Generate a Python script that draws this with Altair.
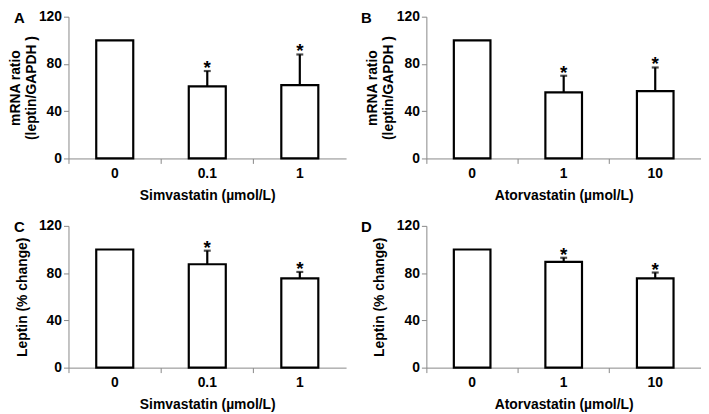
import altair as alt
import pandas as pd

# Panel data
letters = ["A", "B", "C", "D"]
cats_sim = ["0", "0.1", "1"]
cats_ator = ["0", "1", "10"]
vals_A = [100, 61, 62]
errs_A = [100, 74, 88]
vals_B = [100, 56, 57]
errs_B = [100, 70, 77]
vals_C = [100, 87.5, 75.5]
errs_C = [100, 99, 81]
vals_D = [100, 89.5, 75.5]
errs_D = [100, 93, 80.5]
sig = ["", "*", "*"]
ytitle_top = ["mRNA ratio", "(leptin/GAPDH )"]
ytitle_bottom = "Leptin (% change)"
xtitle_sim = "Simvastatin (µmol/L)"
xtitle_ator = "Atorvastatin (µmol/L)"
yticks = [0, 40, 80, 120]

FONT = "Liberation Sans"


def panel(letter, cats, vals, errs, ytitle, xtitle, w, tpad, lx):
    df = pd.DataFrame({"cat": cats, "val": vals, "err": errs, "sig": sig})
    x = alt.X("cat:N", sort=cats, title=xtitle,
              scale=alt.Scale(paddingInner=0, paddingOuter=0),
              axis=alt.Axis(labelAngle=0, bandPosition=0, labelPadding=3,
                            titlePadding=8, tickSize=5))
    y = alt.Y("val:Q", title=ytitle,
              scale=alt.Scale(domain=[0, 120], nice=False),
              axis=alt.Axis(values=yticks, grid=False, tickSize=5,
                            labelPadding=2, titlePadding=tpad))
    base = alt.Chart(df)
    bars = base.mark_bar(width=alt.RelativeBandSize(0.4), fill="white",
                         stroke="black", strokeWidth=2.2).encode(x=x, y=y)
    err_df = df[df["err"] > df["val"]]
    eb = alt.Chart(err_df)
    rule = eb.mark_rule(color="black", strokeWidth=2.2).encode(
        x=alt.X("cat:N", sort=cats), y="val:Q", y2="err:Q")
    cap = eb.mark_tick(color="black", size=7, thickness=2.2).encode(
        x=alt.X("cat:N", sort=cats), y="err:Q")
    star = eb.mark_text(text="*", font=FONT, fontWeight="bold", fontSize=19,
                        baseline="alphabetic", dy=3).encode(
        x=alt.X("cat:N", sort=cats), y="err:Q")
    lab = alt.Chart(pd.DataFrame({"t": [letter]})).mark_text(
        font=FONT, fontWeight="bold", fontSize=15, align="left",
        baseline="top").encode(x=alt.value(lx), y=alt.value(-6),
                               text="t:N")
    return alt.layer(bars, rule, cap, star, lab).properties(width=w, height=143)


pA = panel("A", cats_sim, vals_A, errs_A, ytitle_top, xtitle_sim, 280, 0, -55)
pB = panel("B", cats_ator, vals_B, errs_B, ytitle_top, xtitle_ator, 277, 1, -66)
pC = panel("C", cats_sim, vals_C, errs_C, ytitle_bottom, xtitle_sim, 280, 9, -55)
pD = panel("D", cats_ator, vals_D, errs_D, ytitle_bottom, xtitle_ator, 277, 10, -66)

top = alt.hconcat(pA, pB, spacing=15)
bottom = alt.hconcat(pC, pD, spacing=15)
chart = alt.vconcat(top, bottom, spacing=17).properties(
    padding={"left": 0, "top": 0, "right": 0, "bottom": 0}
).configure_view(stroke=None).configure_axis(
    labelFont=FONT, titleFont=FONT, labelFontWeight="bold",
    titleFontWeight="bold", labelFontSize=14, titleFontSize=14,
    labelColor="black", titleColor="black", domainColor="#888888",
    tickColor="#888888", domainWidth=1
)

chart.save("out.html", embed_options={"renderer": "svg", "actions": False})
